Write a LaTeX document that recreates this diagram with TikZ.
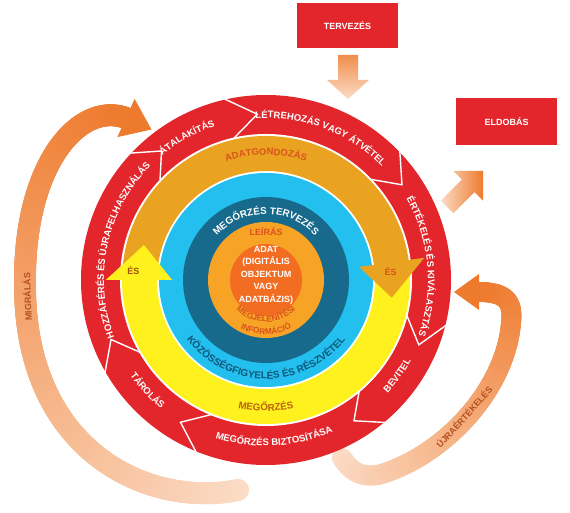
\documentclass[tikz,border=0pt]{standalone}
\usepackage{fontspec}
\setmainfont{Liberation Sans}
\usetikzlibrary{calc,decorations.text,decorations.markings}
\definecolor{cred}{HTML}{E2262B}
\definecolor{cgold}{HTML}{E9A320}
\definecolor{cyel}{HTML}{FFF11E}
\definecolor{cblue}{HTML}{23BFEE}
\definecolor{cteal}{HTML}{176A8C}
\definecolor{clor}{HTML}{F7A325}
\definecolor{cdor}{HTML}{F26C22}
\definecolor{tor}{HTML}{D9531E}
\definecolor{tbrown}{HTML}{B9620F}
\definecolor{tteal}{HTML}{0F5778}
\definecolor{arrdark}{HTML}{EE7A2D}
\definecolor{arrlight}{HTML}{FBDCC6}
\definecolor{tarr}{HTML}{B5501F}
\newcommand{\ringlabel}[6]{%
  \path[decorate, decoration={text along path, text align=center, text color=#4,
    text={|\fontsize{#5}{#5}\selectfont\bfseries|#6}}]
    ($(C)+(#2:#1)$) arc[start angle=#2, end angle=#3, radius=#1];}
\tikzset{
  gradband/.style={decorate, decoration={markings, mark=between positions 0 and 1 step 1pt with {%
    \pgfmathsetmacro\gd{\pgfkeysvalueof{/pgf/decoration/mark info/distance from start}}%
    \pgfmathsetmacro\gl{\pgfdecoratedpathlength}%
    \pgfmathtruncatemacro\gp{min(100,max(0,(\gd/\gl)*100))}%
    \colorlet{gcur}{arrdark!\gp!arrlight}%
    \fill[gcur] (0,0) circle (#1);}}},
  boxlbl/.style={fill=cred, inner sep=0pt, text=white, font=\bfseries\fontsize{9}{9}\selectfont},
  lbl/.style={inner sep=0pt, font=\bfseries\fontsize{9}{9}\selectfont},
}
\begin{document}
\begin{tikzpicture}[x=1pt,y=1pt]
\useasboundingbox (0,0) rectangle (570,513);
\coordinate (C) at (266,233);
% big curved arrows
\path[gradband=11] (238,23) .. controls (150,5) and (24,60) .. (25,230) .. controls (24,350) and (80,412) .. (126,395);
\fill[arrdark] (117.4,375.9) -- (151.5,383.5) -- (134.6,414.1) -- cycle;
\path[gradband=10] (342,55) .. controls (352,40) and (362,36) .. (378,38) .. controls (440,55) and (505,120) .. (511,190) .. controls (514,214) and (503,221) .. (478,221);
\fill[arrdark] (479,239) -- (454,221) -- (479,203) -- cycle;
% boxes and small arrows
\node[boxlbl, name=terv, minimum width=101pt, minimum height=45pt] at (347.5,487.5) {TERVEZÉS};
\shade[top color=arrdark!85!white, bottom color=arrlight] (338,458) -- (358,458) -- (358,433) -- (369,433) -- (348,414) -- (327,433) -- (338,433) -- cycle;
\node[boxlbl, name=eldob, minimum width=101pt, minimum height=47pt] at (506.5,391.5) {ELDOBÁS};
\begin{scope}[shift={(447,306)}, rotate=45]
\shade[left color=arrlight, right color=arrdark] (0,-9) -- (30,-9) -- (30,-21) -- (51,0) -- (30,21) -- (30,9) -- (0,9) -- cycle;
\end{scope}
% rings
\fill[cred] (C) circle (185);
\fill[white] (C) circle (146);
\foreach \b/\t in {103/93, 44/35, -14/-23, -50/-58, -112/-121, -150/-159, 137/129}
  \draw[white, line width=1.4pt, line join=miter] ($(C)+(\b:186)$) -- ($(C)+(\t:166)$) -- ($(C)+(\b:145)$);
\fill[cblue] (C) circle (107);
\fill[cteal] (C) circle (83);
\fill[clor] (C) circle (58);
\fill[cdor] (C) circle (36);
\fill[cyel] ($(C)+(6:144)$) arc[start angle=6, end angle=-180, radius=144] -- ($(C)+(180:160)$) -- ($(C)+(164:127)$) -- ($(C)+(180:94)$) -- ($(C)+(180:109)$) arc[start angle=-180, end angle=6, radius=109] -- cycle;
\fill[cgold] ($(C)+(176:144)$) arc[start angle=176, end angle=8, radius=144] -- ($(C)+(8:160)$) -- ($(C)+(-8:127)$) -- ($(C)+(8:94)$) -- ($(C)+(8:109)$) arc[start angle=8, end angle=176, radius=109] -- cycle;
\fill[cyel] ($(C)+(180:160)$) -- ($(C)+(164:127)$) -- ($(C)+(180:94)$) -- cycle;
% ring labels
\ringlabel{162}{105}{33}{white}{9.5}{LÉTREHOZÁS VAGY ÁTVÉTEL}
\ringlabel{162}{138}{100}{white}{9.5}{ÁTALAKÍTÁS}
\ringlabel{162}{44}{-34}{white}{9.5}{ÉRTÉKELÉS ÉS KIVÁLASZTÁS}
\ringlabel{162}{210}{126}{white}{9.5}{HOZZÁFÉRÉS ÉS ÚJRAFELHASZNÁLÁS}
\ringlabel{166}{-54}{-18}{white}{9.5}{BEVITEL}
\ringlabel{166}{-125}{-49}{white}{9.5}{MEGŐRZÉS BIZTOSÍTÁSA}
\ringlabel{166}{-153}{-121}{white}{9.5}{TÁROLÁS}
\ringlabel{125}{120}{60}{tor}{9.5}{ADATGONDOZÁS}
\ringlabel{131}{-115}{-65}{tbrown}{9.8}{MEGŐRZÉS}
\ringlabel{99}{-175}{-5}{tteal}{10}{KÖZÖSSÉGFIGYELÉS ÉS RÉSZVÉTEL}
\ringlabel{66}{170}{10}{white}{9.8}{MEGŐRZÉS TERVEZÉS}
\ringlabel{42}{-178}{-2}{tor}{8.3}{MEGJELENÍTÉSI}
\ringlabel{54.5}{-170}{-10}{tor}{8.3}{INFORMÁCIÓ}
% straight labels
\node[lbl, name=leiras, text=tor] at ($(C)+(0,48)$) {LEÍRÁS};
\node[lbl, name=adat, text=white, align=center, font=\bfseries\fontsize{9}{12.5}\selectfont] at ($(C)+(0,5)$) {ADAT\\(DIGITÁLIS\\OBJEKTUM\\VAGY\\ADATBÁZIS)};
\node[lbl, name=esl, text=tbrown!85!black] at ($(C)+(176:133)$) {ÉS};
\node[lbl, name=esr, text=tor] at ($(C)+(4:125)$) {ÉS};
\node[lbl, name=migr, text=tarr, rotate=92] at (27,216) {MIGRÁLÁS};
\node[lbl, name=ujra, text=tarr, rotate=48] at (464,96) {ÚJRAÉRTÉKELÉS};
\end{tikzpicture}
\end{document}
